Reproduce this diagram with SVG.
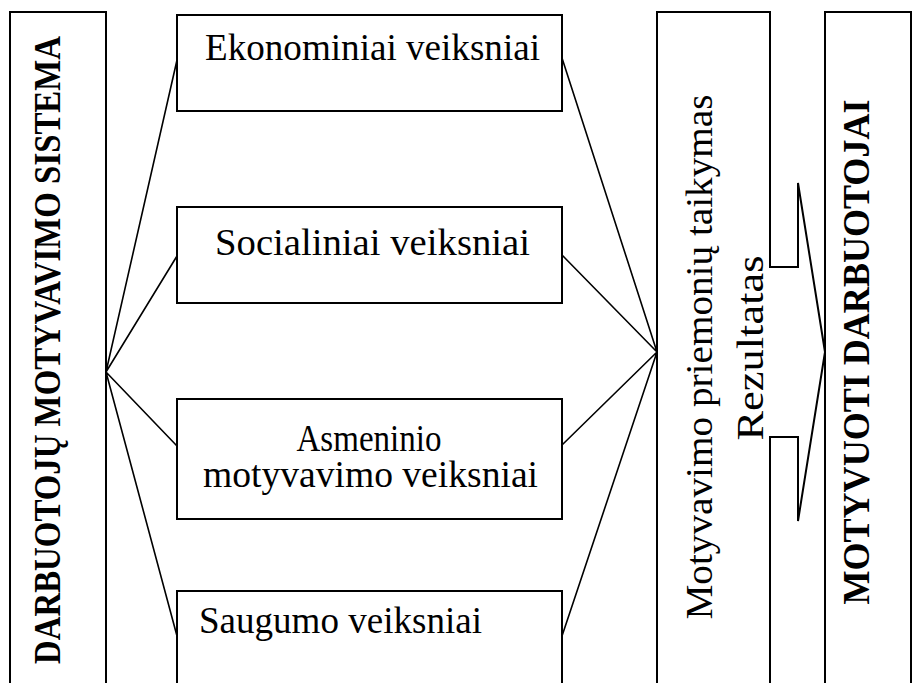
<svg xmlns="http://www.w3.org/2000/svg" width="912" height="683" viewBox="0 0 912 683">
<style>
.box{fill:#fff;stroke:#000;stroke-width:2}
.ln{fill:none;stroke:#000;stroke-width:1.6}
.t{font-family:"Liberation Serif","Times New Roman",serif;font-size:38px;fill:#000}
.b{font-weight:bold}
</style>
<rect width="912" height="683" fill="#fff"/>
<g id="connectors">
<path class="ln" d="M106,372 L177,60 M106,372 L177,256 M106,372 L177,446 M106,372 L177,636"/>
<path class="ln" d="M562,58 L657,352 M562,255 L657,352 M562,445 L657,352 M562,636 L657,352"/>
</g>
<g id="sistema">
<rect class="box" x="10" y="12" width="96" height="680"/>
<text class="t b" transform="translate(60,350) rotate(-90)" text-anchor="middle" font-size="34" textLength="628" lengthAdjust="spacingAndGlyphs">DARBUOTOJŲ MOTYVAVIMO SISTEMA</text>
</g>
<g id="ekonominiai">
<rect class="box" x="177" y="15" width="385" height="96"/>
<text class="t" x="372.5" y="60" text-anchor="middle" textLength="335" lengthAdjust="spacingAndGlyphs">Ekonominiai veiksniai</text>
</g>
<g id="socialiniai">
<rect class="box" x="177" y="207" width="385" height="96"/>
<text class="t" x="372.5" y="255" text-anchor="middle" textLength="315" lengthAdjust="spacingAndGlyphs">Socialiniai veiksniai</text>
</g>
<g id="asmeninio">
<rect class="box" x="177" y="399" width="385" height="120"/>
<text class="t" x="369" y="451" text-anchor="middle" textLength="145" lengthAdjust="spacingAndGlyphs">Asmeninio</text>
<text class="t" x="370.5" y="487" text-anchor="middle" textLength="335" lengthAdjust="spacingAndGlyphs">motyvavimo veiksniai</text>
</g>
<g id="saugumo">
<rect class="box" x="177" y="591" width="385" height="100"/>
<text class="t" x="199" y="633" textLength="283" lengthAdjust="spacingAndGlyphs">Saugumo veiksniai</text>
</g>
<g id="priemones">
<path class="box" d="M657,692 L657,12 L770,12 L770,267 L798,267 L798,183 L825,352 L798,521 L798,437 L770,437 L770,692 Z"/>
<text class="t" transform="translate(712,357) rotate(-90)" text-anchor="middle" font-size="40" textLength="525" lengthAdjust="spacingAndGlyphs">Motyvavimo priemonių taikymas</text>
<text class="t" transform="translate(763,348) rotate(-90)" text-anchor="middle" font-size="40" textLength="185" lengthAdjust="spacingAndGlyphs">Rezultatas</text>
</g>
<g id="motyvuoti">
<rect class="box" x="825" y="12" width="86" height="680"/>
<text class="t b" transform="translate(869,352) rotate(-90)" text-anchor="middle" font-size="33" textLength="505" lengthAdjust="spacingAndGlyphs">MOTYVUOTI DARBUOTOJAI</text>
</g>
</svg>
